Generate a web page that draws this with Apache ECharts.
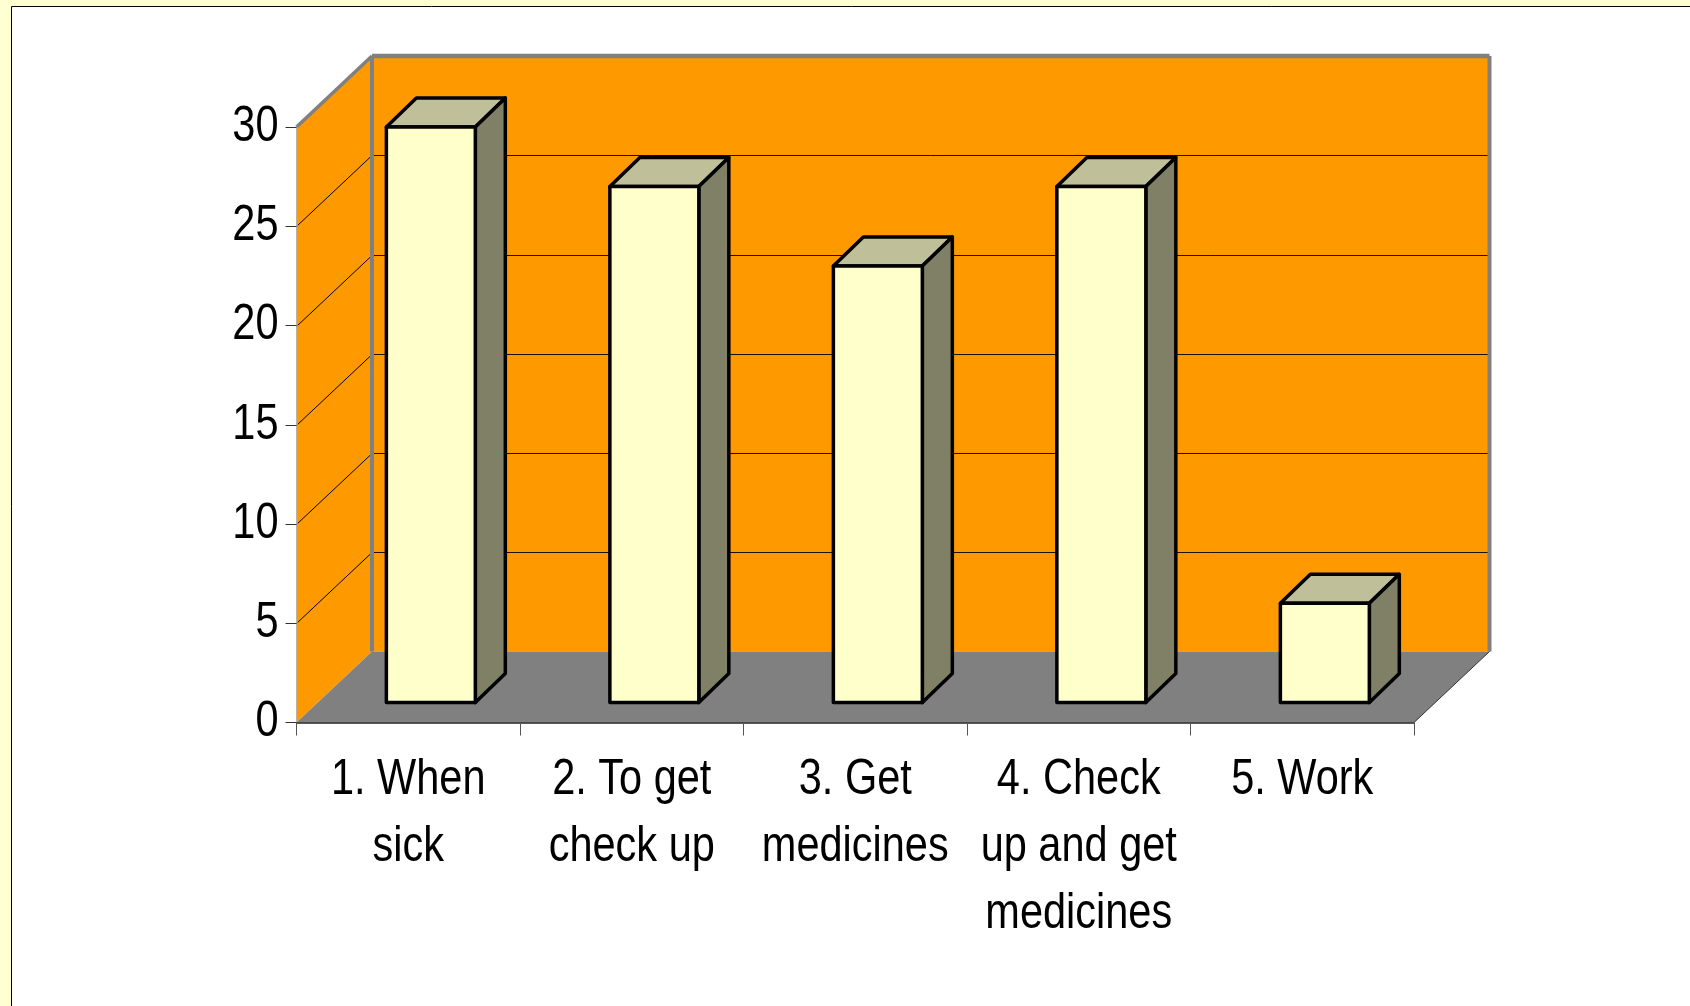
<!DOCTYPE html>
<html>
<head>
<meta charset="utf-8">
<style>html,body{margin:0;padding:0;background:#FFFFD1;overflow:hidden}#c{width:1690px;height:1006px}</style>
<script src="https://cdn.jsdelivr.net/npm/echarts@6/dist/echarts.min.js"></script>
</head>
<body>
<div id="c"></div>
<script>
const categories = ['1. When\nsick', '2. To get\ncheck up', '3. Get\nmedicines', '4. Check\nup and get\nmedicines', '5. Work'];
const values = [29, 26, 22, 26, 5];
const gridTicks = [5, 10, 15, 20, 25];
const valueTicks = [0, 5, 10, 15, 20, 25, 30];

const DEPTH_X = 75.5, DEPTH_Y = 71;      // wall depth
const BAR_SHIFT_X = 22.6, BAR_SHIFT_Y = 19.9; // bar's position inside the depth
const BAR_DX = 30, BAR_DY = 29;          // bar depth
const BAR_RATIO = 0.398;
const FONT = '"Liberation Sans",Arial,sans-serif';
const FONT_SIZE = 50, TEXT_SCALE_X = 0.83;

function poly(points, fill, stroke, lineWidth) {
  return {type: 'polygon', shape: {points}, style: {fill, stroke: stroke || 'none', lineWidth: lineWidth || 0, lineJoin: 'round'}};
}
function line(x1, y1, x2, y2, stroke, lineWidth) {
  return {type: 'line', shape: {x1, y1, x2, y2}, style: {stroke, lineWidth}};
}
function label(x, y, text, align, verticalAlign) {
  return {type: 'text', x, y, scaleX: TEXT_SCALE_X, scaleY: 1, style: {
    text, x: 0, y: 0, align, verticalAlign, fill: '#000',
    fontFamily: FONT, fontSize: FONT_SIZE, lineHeight: 67
  }};
}

function renderWalls(params, api) {
  const r = params.coordSys;
  const L = r.x, R = r.x + r.width, T = r.y, B = r.y + r.height;
  const dx = DEPTH_X, dy = DEPTH_Y;
  const children = [
    poly([[L + dx, T - dy], [R + dx, T - dy], [R + dx, B - dy], [L + dx, B - dy]], '#FF9900'),
    poly([[L, T], [L + dx, T - dy], [L + dx, B - dy], [L, B]], '#FF9900'),
    poly([[L, B], [R, B], [R + dx, B - dy], [L + dx, B - dy]], '#808080')
  ];
  gridTicks.forEach(function (t) {
    const y = Math.round(api.coord([0, t])[1]) + 0.5;
    children.push(line(L, y, L + dx, y - dy, '#000', 1));
    children.push(line(L + dx, y - dy, R + dx, y - dy, '#1a1000', 1));
  });
  children.push(line(L, T, L + dx, T - dy, '#808080', 3.5));
  children.push(line(L + dx, T - dy, R + dx, T - dy, '#808080', 4.5));
  children.push(line(L + dx, T - dy, L + dx, B - dy, '#808080', 4));
  children.push(line(R + dx, T - dy, R + dx, B - dy, '#808080', 4));
  children.push(line(R, B, R + dx, B - dy, '#333', 1));
  return {type: 'group', children};
}

function renderBar(params, api) {
  const idx = api.value(0), val = api.value(1);
  const w = api.size([1, 0])[0] * BAR_RATIO;
  const cx = api.coord([idx, 0])[0] + BAR_SHIFT_X;
  const y0 = api.coord([idx, 0])[1] - BAR_SHIFT_Y;
  const y1 = api.coord([idx, val])[1] - BAR_SHIFT_Y;
  const x0 = cx - w / 2, x1 = cx + w / 2;
  const dx = BAR_DX, dy = BAR_DY, lw = 3.5;
  return {type: 'group', children: [
    poly([[x0, y1], [x1, y1], [x1 + dx, y1 - dy], [x0 + dx, y1 - dy]], '#BFBF99', '#000', lw),
    poly([[x1, y1], [x1 + dx, y1 - dy], [x1 + dx, y0 - dy], [x1, y0]], '#808066', '#000', lw),
    poly([[x0, y1], [x1, y1], [x1, y0], [x0, y0]], '#FFFFCC', '#000', lw)
  ]};
}

// Axis text is condensed horizontally, which axisLabel cannot do, so it is placed through the same scales.
function renderCategoryLabel(params, api) {
  const idx = api.value(0);
  const p = api.coord([idx, 0]);
  return label(p[0], p[1] + 24, categories[idx], 'center', 'top');
}
function renderValueLabel(params, api) {
  const r = params.coordSys;
  const v = api.value(1);
  return label(r.x - 18, api.coord([0, v])[1], String(v), 'right', 'middle');
}

const chart = echarts.init(document.getElementById('c'), null, {renderer: 'canvas'});
chart.setOption({
  animation: false,
  backgroundColor: '#FFFFD1',
  graphic: [{
    type: 'rect', z: -10, silent: true,
    shape: {x: 11.5, y: 6.5, width: 1700, height: 1020},
    style: {fill: '#FFFFFF', stroke: '#000', lineWidth: 1}
  }],
  grid: {left: 296.5, right: 276, top: 127, bottom: 283.5, containLabel: false},
  xAxis: {
    type: 'category', data: categories, z: 6,
    axisLine: {show: true, lineStyle: {color: '#222', width: 1.5}},
    axisTick: {show: true, length: 13, lineStyle: {color: '#555', width: 1}},
    axisLabel: {show: false}
  },
  yAxis: {
    type: 'value', min: 0, max: 30, interval: 5, z: 6,
    splitLine: {show: false},
    axisLine: {show: true, lineStyle: {color: '#A8A8A8', width: 1.5}},
    axisTick: {show: true, length: 11, lineStyle: {color: '#333', width: 1}},
    axisLabel: {show: false}
  },
  series: [
    {type: 'custom', z: 2, silent: true, renderItem: renderWalls, data: [[0, 0]], encode: {x: 0, y: 1}},
    {type: 'custom', z: 3, silent: true, renderItem: renderBar,
     data: values.map(function (v, i) { return [i, v]; }), encode: {x: 0, y: 1}},
    {type: 'custom', z: 4, silent: true, renderItem: renderCategoryLabel,
     data: categories.map(function (c, i) { return [i, 0]; }), encode: {x: 0, y: 1}},
    {type: 'custom', z: 4, silent: true, renderItem: renderValueLabel,
     data: valueTicks.map(function (v) { return [0, v]; }), encode: {x: 0, y: 1}}
  ]
});
</script>
</body>
</html>
